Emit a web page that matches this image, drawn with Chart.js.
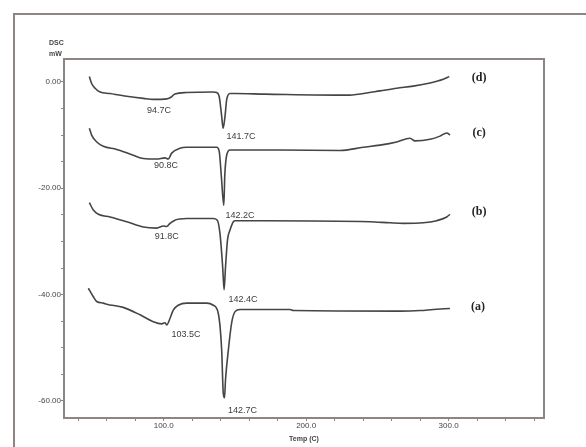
<!DOCTYPE html>
<html lang="en">
<head>
    <meta charset="UTF-8">
    <title>DSC curves</title>
    <script src="https://cdn.jsdelivr.net/npm/chart.js"></script>
    <style>
        body { background: #fff; margin: 0; padding: 0; }
        canvas { display: block; }
    </style>
</head>
<body>
<canvas id="dscChart" width="586" height="447"></canvas>
<script>
// temperatures (C) and heat flow (mW)
const tempA = [47.1, 50.6, 53.0, 57.6, 60.0, 71.6, 83.4, 92.7, 98.6, 100.9, 102.1, 104.4, 106.7, 110.2, 116.1, 130.2, 134.8, 138.3, 140.7, 141.8, 142.7, 143.4, 145.4, 147.7, 150.1, 153.6, 188.7, 191.0, 265.9, 280.0, 289.3, 301.0];
const dscA  = [-38.8, -40.4, -41.3, -41.6, -41.8, -42.4, -43.8, -45.1, -45.5, -45.3, -45.7, -44.5, -42.9, -42.0, -41.6, -41.6, -42.0, -43.5, -50.4, -58.5, -59.4, -56.0, -50.4, -45.3, -43.2, -42.8, -42.8, -43.0, -43.1, -43.0, -42.8, -42.6];

const tempB = [47.8, 50.6, 54.1, 62.3, 74.0, 85.7, 95.1, 99.7, 102.1, 104.4, 107.9, 116.1, 134.8, 137.6, 139.5, 141.4, 142.4, 143.4, 144.8, 146.5, 148.9, 150.1, 169.9, 244.8, 258.9, 268.2, 282.3, 291.7, 298.7, 301.0];
const dscB  = [-22.7, -24.1, -24.9, -25.4, -26.3, -27.3, -27.5, -27.1, -27.2, -26.6, -26.0, -25.7, -25.7, -26.0, -28.5, -34.8, -39.1, -34.8, -29.7, -27.9, -26.3, -26.1, -26.1, -26.3, -26.5, -26.6, -26.5, -26.1, -25.4, -24.9];

const tempC = [47.8, 49.4, 53.0, 57.6, 67.0, 78.7, 85.7, 95.1, 100.9, 103.2, 105.6, 111.4, 116.1, 137.2, 139.0, 140.4, 142.2, 142.9, 144.2, 146.5, 151.3, 181.7, 223.8, 240.1, 251.9, 263.6, 272.9, 276.4, 287.0, 294.0, 298.7, 301.0];
const dscC  = [-8.7, -10.0, -11.3, -12.1, -12.7, -13.8, -14.4, -14.5, -14.3, -14.5, -13.4, -12.5, -12.3, -12.3, -13.1, -17.5, -23.2, -17.5, -13.8, -12.8, -12.8, -12.8, -12.9, -12.3, -11.9, -11.3, -10.6, -11.1, -10.8, -10.2, -9.6, -10.0];

const tempD = [47.8, 49.4, 51.8, 55.3, 62.3, 74.0, 85.7, 92.7, 102.1, 104.4, 107.9, 116.1, 134.8, 137.2, 139.0, 140.6, 141.7, 143.0, 144.2, 146.5, 150.1, 171.1, 228.5, 240.1, 251.9, 263.6, 275.2, 287.0, 296.3, 300.5];
const dscD  = [1.0, -0.3, -1.2, -1.9, -2.2, -2.7, -3.1, -3.3, -3.2, -3.0, -2.3, -2.0, -1.9, -2.0, -2.8, -6.2, -8.7, -6.6, -3.4, -2.2, -2.2, -2.3, -2.5, -2.2, -1.7, -1.2, -0.8, -0.2, 0.5, 1.0];

// peak labels
const peakText = ['94.7C', '90.8C', '91.8C', '103.5C', '141.7C', '142.2C', '142.4C', '142.7C'];
const peakTemp = [96.7, 101.6, 102.1, 115.7, 154.3, 153.6, 155.7, 155.3];
const peakDsc  = [-5.3, -15.8, -29.1, -47.5, -10.3, -25.2, -40.9, -61.7];

// curve names
const curveText = ['(d)', '(c)', '(b)', '(a)'];
const curveTemp = [321.4, 321.4, 321.4, 320.7];
const curveDsc  = [0.7, -9.6, -24.5, -42.4];

const xTicks = [40, 60, 80, 100, 120, 140, 160, 180, 200, 220, 240, 260, 280, 300, 320, 340, 360];
const yTicks = [-60, -55, -50, -45, -40, -35, -30, -25, -20, -15, -10, -5, 0];

const frameColor = '#8c8582';
const lineColor = '#474443';
const tickColor = '#444';

function pts(xs, ys) {
    return xs.map((x, i) => ({ x: x, y: ys[i] }));
}

function curve(xs, ys) {
    return {
        data: pts(xs, ys),
        showLine: true,
        borderColor: lineColor,
        borderWidth: 1.6,
        pointRadius: 0,
        cubicInterpolationMode: 'monotone',
        fill: false
    };
}

// frame, axis captions and text labels
const decorations = {
    id: 'decorations',
    beforeDraw(chart) {
        const ctx = chart.ctx;
        ctx.save();
        ctx.fillStyle = '#fff';
        ctx.fillRect(0, 0, chart.width, chart.height);
        ctx.strokeStyle = frameColor;
        ctx.lineWidth = 2;
        ctx.beginPath();
        ctx.moveTo(14, chart.height);
        ctx.lineTo(14, 14);
        ctx.lineTo(chart.width, 14);
        ctx.stroke();
        ctx.restore();
    },
    afterDraw(chart) {
        const ctx = chart.ctx;
        const a = chart.chartArea;
        const xs = chart.scales.x, ys = chart.scales.y;
        ctx.save();
        ctx.strokeStyle = frameColor;
        ctx.lineWidth = 2;
        ctx.strokeRect(a.left, a.top, a.right - a.left, a.bottom - a.top);

        ctx.fillStyle = tickColor;
        ctx.font = 'bold 7px "Liberation Sans", Arial, sans-serif';
        ctx.textAlign = 'left';
        ctx.textBaseline = 'middle';
        ctx.fillText('DSC', 49, 43);
        ctx.fillText('mW', 49, 54);

        ctx.fillStyle = '#3c3c3c';
        ctx.font = '9px "Liberation Sans", Arial, sans-serif';
        ctx.textAlign = 'center';
        peakText.forEach((t, i) => {
            ctx.fillText(t, xs.getPixelForValue(peakTemp[i]), ys.getPixelForValue(peakDsc[i]));
        });

        ctx.fillStyle = '#222';
        ctx.font = 'bold 12px "Liberation Serif", "Times New Roman", serif';
        curveText.forEach((t, i) => {
            ctx.fillText(t, xs.getPixelForValue(curveTemp[i]), ys.getPixelForValue(curveDsc[i]));
        });
        ctx.restore();
    }
};

new Chart(document.getElementById('dscChart').getContext('2d'), {
    type: 'scatter',
    data: { datasets: [curve(tempA, dscA), curve(tempB, dscB), curve(tempC, dscC), curve(tempD, dscD)] },
    options: {
        responsive: false,
        animation: false,
        layout: { padding: { left: 0, top: 59, right: 42, bottom: 0 } },
        plugins: { legend: { display: false }, tooltip: { enabled: false } },
        scales: {
            x: {
                type: 'linear', min: 30, max: 367,
                afterBuildTicks: s => { s.ticks = xTicks.map(v => ({ value: v })); },
                afterFit: s => { s.height = 29; },
                grid: { drawOnChartArea: false, drawTicks: true, tickLength: 3, color: frameColor },
                border: { display: false },
                ticks: {
                    autoSkip: false, maxRotation: 0, padding: 0, color: tickColor,
                    font: { size: 8, family: '"Liberation Sans", Arial, sans-serif' },
                    callback: v => (v % 100 === 0 ? v.toFixed(1) : '')
                },
                title: {
                    display: true, text: 'Temp (C)', color: tickColor, padding: 4,
                    font: { size: 7, weight: 'bold', family: '"Liberation Sans", Arial, sans-serif' }
                }
            },
            y: {
                type: 'linear', min: -63.2, max: 4.3,
                afterBuildTicks: s => { s.ticks = yTicks.map(v => ({ value: v })); },
                afterFit: s => { s.width = 64; },
                grid: { drawOnChartArea: false, drawTicks: true, tickLength: 3, color: frameColor },
                border: { display: false },
                ticks: {
                    autoSkip: false, padding: 0, color: tickColor,
                    font: { size: 8, family: '"Liberation Sans", Arial, sans-serif' },
                    callback: v => (v % 20 === 0 ? v.toFixed(2) : '')
                }
            }
        }
    },
    plugins: [decorations]
});
</script>
</body>
</html>
